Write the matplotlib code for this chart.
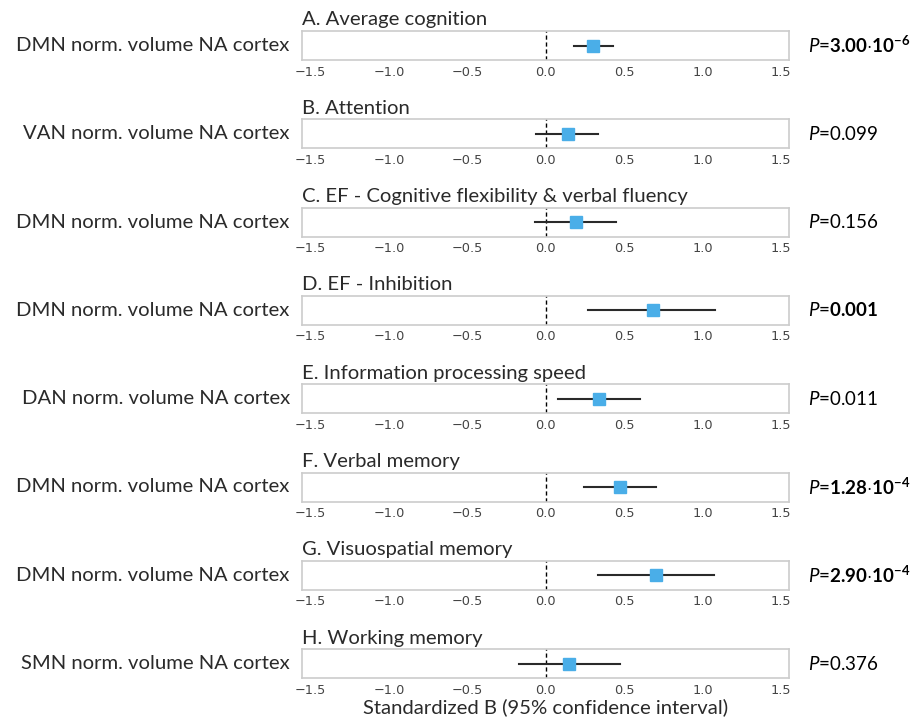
import numpy as np
import matplotlib
matplotlib.use("Agg")
import matplotlib.pyplot as plt

# data
titles = ["A. Average cognition", "B. Attention",
          "C. EF - Cognitive flexibility & verbal fluency", "D. EF - Inhibition",
          "E. Information processing speed", "F. Verbal memory",
          "G. Visuospatial memory", "H. Working memory"]
predictors = ["DMN norm. volume NA cortex", "VAN norm. volume NA cortex",
              "DMN norm. volume NA cortex", "DMN norm. volume NA cortex",
              "DAN norm. volume NA cortex", "DMN norm. volume NA cortex",
              "DMN norm. volume NA cortex", "SMN norm. volume NA cortex"]
beta = [0.30, 0.14, 0.19, 0.68, 0.34, 0.47, 0.70, 0.15]
ci_low = [0.18, -0.06, -0.07, 0.27, 0.08, 0.24, 0.33, -0.17]
ci_high = [0.43, 0.33, 0.45, 1.08, 0.60, 0.70, 1.07, 0.47]
p_text = [r"$\mathit{P}$=$\mathbf{3.00{\cdot}10^{-6}}$",
          r"$\mathit{P}$=0.099",
          r"$\mathit{P}$=0.156",
          r"$\mathit{P}$=$\mathbf{0.001}$",
          r"$\mathit{P}$=0.011",
          r"$\mathit{P}$=$\mathbf{1.28{\cdot}10^{-4}}$",
          r"$\mathit{P}$=$\mathbf{2.90{\cdot}10^{-4}}$",
          r"$\mathit{P}$=0.376"]
xticks = [-1.5, -1.0, -0.5, 0.0, 0.5, 1.0, 1.5]

plt.rcParams['font.family'] = ['Lato', 'DejaVu Sans']
plt.rcParams['mathtext.fontset'] = 'custom'
plt.rcParams['mathtext.rm'] = 'Lato'
plt.rcParams['mathtext.it'] = 'Lato:italic'
plt.rcParams['mathtext.bf'] = 'Lato:bold'

W, H = 913, 724
fig = plt.figure(figsize=(W / 100, H / 100), dpi=100)

left, right = 302, 789
box_h = 29
step = 88.3
sq_color = '#4aaee8'
text_color = '#2a2a2a'
fs = 14.6

for i in range(len(titles)):
    top = 31 + step * i
    ax = fig.add_axes([left / W, 1 - (top + box_h) / H, (right - left) / W, box_h / H])
    ax.set_xlim(-1.555, 1.55)
    ax.set_ylim(-1, 1)
    ax.axvline(0, color='black', lw=1, ls=(0, (3, 2)), zorder=1)
    ax.plot([ci_low[i], ci_high[i]], [0, 0], color='#2a2a2a', lw=1.5, zorder=2)
    ax.plot([beta[i]], [0], marker='s', ms=8.8, color=sq_color, zorder=3,
            markeredgecolor=sq_color)
    ax.set_yticks([])
    ax.set_xticks(xticks)
    ax.set_xticklabels([f"{t:.1f}".replace('-', '\u2212') for t in xticks],
                       family='DejaVu Sans', fontsize=9.3, color='#444444')
    ax.tick_params(axis='x', length=0, pad=4)
    for s in ax.spines.values():
        s.set_color('#cccccc')
        s.set_linewidth(1.2)
    ax.set_title(titles[i], loc='left', fontsize=fs, color=text_color, pad=4)
    ax.set_ylabel(predictors[i], rotation=0, ha='right', va='center',
                  fontsize=fs, color=text_color)
    ax.yaxis.set_label_coords(-0.025, 0.5)
    ax.text(1.04, 0.5, p_text[i], transform=ax.transAxes, ha='left', va='center',
            fontsize=13.5, color='black')
    if i == len(titles) - 1:
        ax.set_xlabel("Standardized B (95% confidence interval)", fontsize=fs,
                      color=text_color, labelpad=1)

fig.savefig("out.png", dpi=100)
